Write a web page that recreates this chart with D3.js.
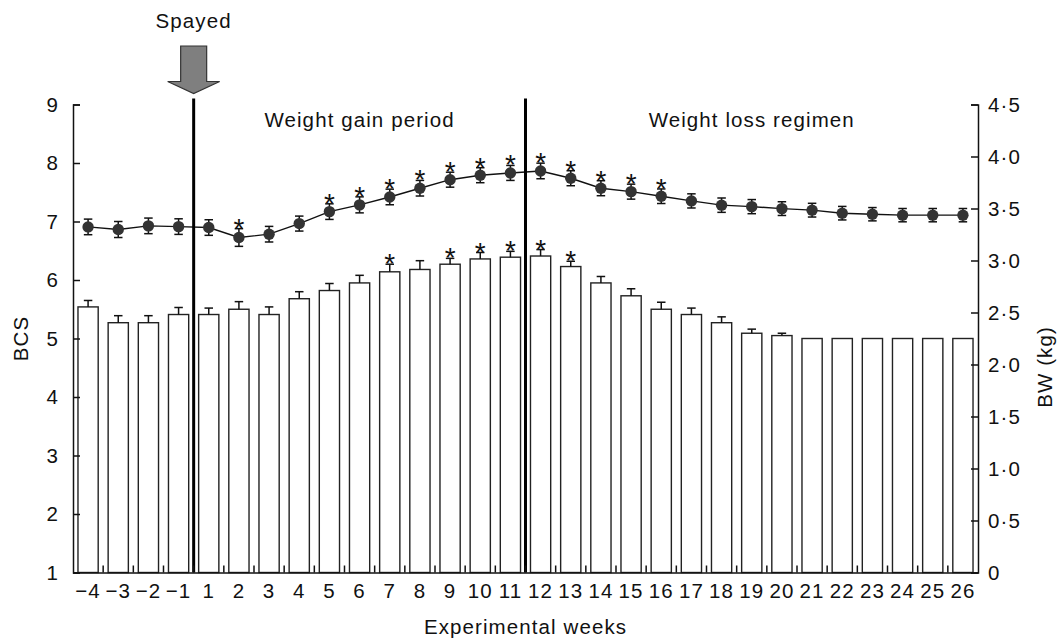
<!DOCTYPE html>
<html><head><meta charset="utf-8">
<script src="https://cdn.jsdelivr.net/npm/d3@7"></script>
<style>
html,body{margin:0;padding:0;background:#fff;}
svg text{font-family:"Liberation Sans",Arial,Helvetica,sans-serif;fill:#111;}
</style></head>
<body>
<svg id="c" width="1058" height="641"></svg>
<script>
const weeks = [-4,-3,-2,-1,1,2,3,4,5,6,7,8,9,10,11,12,13,14,15,16,17,18,19,20,21,22,23,24,25,26];
const bcs    = [5.54,5.27,5.27,5.41,5.41,5.50,5.41,5.68,5.82,5.95,6.14,6.18,6.27,6.36,6.39,6.41,6.23,5.95,5.73,5.50,5.41,5.27,5.09,5.05,5.00,5.00,5.00,5.00,5.00,5.00];
const bcsErr = [0.11,0.12,0.12,0.12,0.11,0.13,0.13,0.12,0.12,0.13,0.13,0.15,0.10,0.11,0.10,0.11,0.09,0.11,0.12,0.12,0.11,0.10,0.07,0.04,0,0,0,0,0,0];
const bcsSig = [7,9,10,11,12,13];
const bw     = [3.323,3.298,3.333,3.326,3.317,3.221,3.253,3.355,3.470,3.535,3.611,3.695,3.777,3.820,3.842,3.861,3.791,3.695,3.662,3.618,3.573,3.532,3.518,3.499,3.484,3.455,3.445,3.436,3.436,3.436];
const bwErr  = [0.075,0.077,0.075,0.075,0.075,0.085,0.075,0.072,0.075,0.077,0.075,0.075,0.072,0.072,0.072,0.075,0.072,0.072,0.072,0.07,0.068,0.069,0.068,0.066,0.066,0.065,0.064,0.064,0.064,0.064];
const bwSig  = [2,5,6,7,8,9,10,11,12,13,14,15,16];
const leftTicks  = [1,2,3,4,5,6,7,8,9];
const rightTicks = [0,0.5,1,1.5,2,2.5,3,3.5,4,4.5];
const periods = [{label:"Weight gain period", from:-1, to:11},{label:"Weight loss regimen", from:11, to:26}];

const svg = d3.select("#c");
const L = 73, R = 978, T = 104.5, B = 572.5;
const pad = 0.33;
const x = d3.scaleBand().domain(weeks).range([L, R]).paddingInner(pad).paddingOuter(pad/2);
const yL = d3.scaleLinear().domain([1,9]).range([B, T]);
const yR = d3.scaleLinear().domain([0,4.5]).range([B, T]);
const cx = w => x(w) + x.bandwidth()/2;
const boundaryAfter = w => x(w) + x.bandwidth() + x.step()*pad/2;
const fmtR = d => d === 0 ? "0" : d.toFixed(1).replace(".", "\u00B7");
const fmtX = d => d < 0 ? "\u2212" + Math.abs(d) : String(d);
const FS = 20.5, LS = 1.1, AFS = 28, AOFF = 9;

// bars
const g = svg.append("g");
g.selectAll("rect.bar").data(weeks).join("rect")
  .attr("x", d => x(d)).attr("width", x.bandwidth())
  .attr("y", (d,i) => yL(bcs[i])).attr("height", (d,i) => yL(1) - yL(bcs[i]))
  .attr("fill", "#fff").attr("stroke", "#222").attr("stroke-width", 1.4);
const capW = 8.5;
weeks.forEach((w,i) => {
  if (bcsErr[i] <= 0) return;
  const c = cx(w), y0 = yL(bcs[i]), y1 = yL(bcs[i] + bcsErr[i]);
  g.append("line").attr("x1", c).attr("x2", c).attr("y1", y0).attr("y2", y1).attr("stroke", "#111").attr("stroke-width", 1.5);
  g.append("line").attr("x1", c - capW/2).attr("x2", c + capW/2).attr("y1", y1).attr("y2", y1).attr("stroke", "#111").attr("stroke-width", 1.5);
});
bcsSig.forEach(w => {
  const i = weeks.indexOf(w);
  svg.append("text").attr("x", cx(w)).attr("y", yL(bcs[i] + bcsErr[i]) + AOFF)
    .attr("text-anchor", "middle").attr("font-size", AFS).text("*");
});

// line
const line = d3.line().x((d,i) => cx(weeks[i])).y(d => yR(d));
svg.append("path").datum(bw).attr("d", line).attr("fill", "none").attr("stroke", "#111").attr("stroke-width", 1.4);
weeks.forEach((w,i) => {
  const c = cx(w), ya = yR(bw[i] + bwErr[i]), yb = yR(bw[i] - bwErr[i]);
  svg.append("line").attr("x1", c).attr("x2", c).attr("y1", ya).attr("y2", yb).attr("stroke", "#111").attr("stroke-width", 1.5);
  [ya, yb].forEach(yy => svg.append("line").attr("x1", c - capW/2).attr("x2", c + capW/2).attr("y1", yy).attr("y2", yy).attr("stroke", "#111").attr("stroke-width", 1.5));
});
svg.selectAll("circle.pt").data(bw).join("circle")
  .attr("cx", (d,i) => cx(weeks[i])).attr("cy", d => yR(d)).attr("r", 5.7).attr("fill", "#333");
bwSig.forEach(w => {
  const i = weeks.indexOf(w);
  svg.append("text").attr("x", cx(w)).attr("y", yR(bw[i] + bwErr[i]) + AOFF)
    .attr("text-anchor", "middle").attr("font-size", AFS).text("*");
});

// vertical period lines
const lineTop = T - 6;
periods.forEach(p => {
  const xb = boundaryAfter(p.from);
  svg.append("line").attr("x1", xb).attr("x2", xb).attr("y1", lineTop).attr("y2", B).attr("stroke", "#000").attr("stroke-width", 3);
  const xe = p.to === weeks[weeks.length-1] ? R : boundaryAfter(p.to);
  svg.append("text").attr("x", (xb + xe)/2).attr("y", 127)
    .attr("text-anchor", "middle").attr("font-size", FS).attr("letter-spacing", LS).text(p.label);
});

// axes
const styleAxis = sel => {
  sel.selectAll("path.domain").attr("stroke", "#111").attr("stroke-width", 1.5);
  sel.selectAll(".tick line").attr("stroke", "#111").attr("stroke-width", 1.5);
  sel.selectAll("text").attr("font-size", FS).attr("letter-spacing", LS).attr("fill", "#111")
     .style("font-family", '"Liberation Sans",Arial,sans-serif');
};
const axL = svg.append("g").attr("transform", `translate(${L},0)`)
  .call(d3.axisLeft(yL).tickValues(leftTicks).tickSizeInner(-7).tickSizeOuter(-7).tickPadding(14).tickFormat(d3.format("d")));
styleAxis(axL);
const axR = svg.append("g").attr("transform", `translate(${R},0)`)
  .call(d3.axisRight(yR).tickValues(rightTicks).tickSizeInner(-7).tickSizeOuter(-7).tickPadding(10).tickFormat(fmtR));
styleAxis(axR);
const axB = svg.append("g").attr("transform", `translate(0,${B})`)
  .call(d3.axisBottom(x).tickSize(0).tickSizeOuter(0).tickPadding(11).tickFormat(fmtX));
styleAxis(axB);
svg.selectAll("line.bt").data(weeks.slice(0, -1)).join("line")
  .attr("x1", d => boundaryAfter(d)).attr("x2", d => boundaryAfter(d))
  .attr("y1", B).attr("y2", B - 7).attr("stroke", "#111").attr("stroke-width", 1.5);

// axis titles
svg.append("text").attr("transform", `translate(28,${(T+B)/2}) rotate(-90)`)
  .attr("text-anchor", "middle").attr("font-size", FS).attr("letter-spacing", LS).text("BCS");
svg.append("text").attr("transform", `translate(1052,367) rotate(-90)`)
  .attr("text-anchor", "middle").attr("font-size", FS).attr("letter-spacing", LS).text("BW (kg)");
svg.append("text").attr("x", (L+R)/2).attr("y", 634)
  .attr("text-anchor", "middle").attr("font-size", FS).attr("letter-spacing", LS).text("Experimental weeks");

// Spayed arrow
const ax = boundaryAfter(-1);
const tipY = lineTop - 5, headH = 12, shaftW = 26, headW = 52, shaftTop = 46;
const arrow = [[ax - shaftW/2, shaftTop],[ax + shaftW/2, shaftTop],[ax + shaftW/2, tipY - headH],[ax + headW/2, tipY - headH],
  [ax, tipY],[ax - headW/2, tipY - headH],[ax - shaftW/2, tipY - headH]];
svg.append("path").attr("d", d3.line()(arrow) + "Z").attr("fill", "#7f7f7f").attr("stroke", "#333").attr("stroke-width", 1.2);
svg.append("text").attr("x", ax).attr("y", 28).attr("text-anchor", "middle").attr("font-size", FS).attr("letter-spacing", LS).text("Spayed");
</script>
</body></html>
